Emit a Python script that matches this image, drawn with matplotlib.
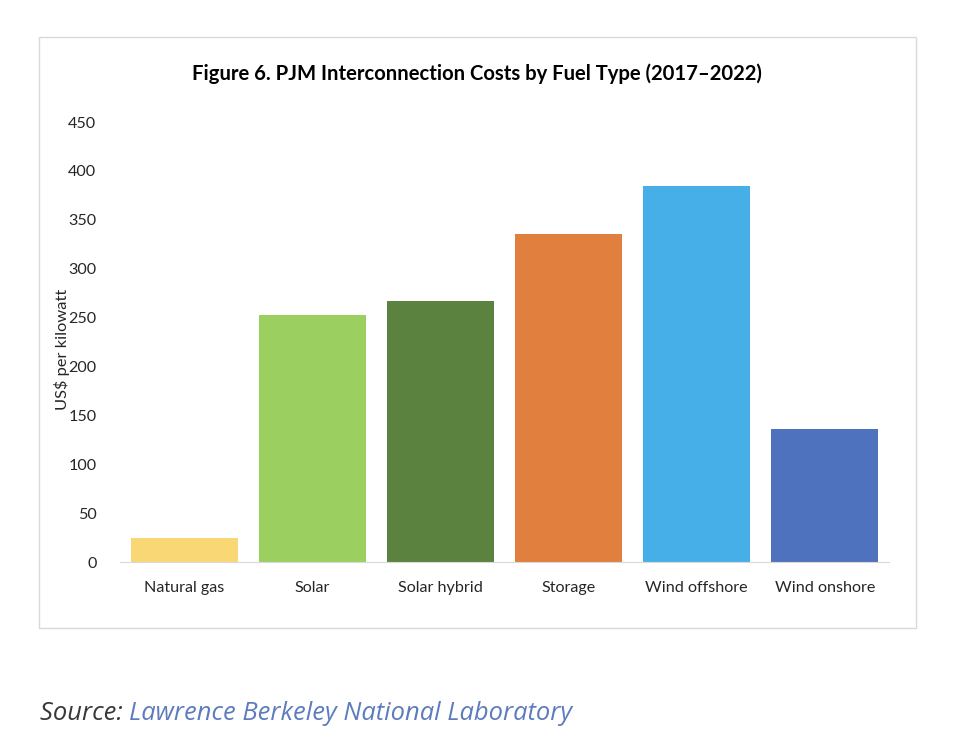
import matplotlib
matplotlib.use("Agg")
import matplotlib.pyplot as plt
from matplotlib.patches import Rectangle

categories = ["Natural gas", "Solar", "Solar hybrid", "Storage", "Wind offshore", "Wind onshore"]
values = [24.5, 253, 266.5, 335, 385, 136]
colors = ["#F9D775", "#9BCF5F", "#5B823E", "#E07F3E", "#46AFE8", "#4F72BE"]
yticks = [0, 50, 100, 150, 200, 250, 300, 350, 400, 450]

W, H = 969, 739
fig = plt.figure(figsize=(W / 100, H / 100), dpi=100)
fig.patch.set_facecolor("white")

# outer frame
fig.patches.append(Rectangle((39 / W, 1 - 628 / H), (916 - 39) / W, (628 - 37) / H,
                             transform=fig.transFigure, fill=False,
                             edgecolor="#D9D9D9", linewidth=1.0))

ax = fig.add_axes([120 / W, 1 - 562 / H, (889 - 120) / W, (562 - 122) / H])
x = range(len(categories))
ax.bar(x, values, width=0.835, color=colors)
ax.set_xlim(-0.5, len(categories) - 0.5)
ax.set_ylim(0, 450)
ax.set_yticks(yticks)
ax.set_xticks(list(x))
ax.set_xticklabels(categories)
for s in ["top", "right", "left"]:
    ax.spines[s].set_visible(False)
ax.spines["bottom"].set_color("#D9D9D9")
ax.tick_params(axis="both", length=0, labelsize=11.6, labelcolor="#262626")
ax.tick_params(axis="y", pad=17)
ax.tick_params(axis="x", pad=14)
for lab in ax.get_xticklabels() + ax.get_yticklabels():
    lab.set_family("Lato")
ax.set_ylabel("US$ per kilowatt", fontsize=11.8, family="Lato", color="#262626")
ax.yaxis.set_label_coords(-50 / 769, 0.484)

fig.text(477 / W, 1 - 74 / H, "Figure 6. PJM Interconnection Costs by Fuel Type (2017\u20132022)",
         ha="center", va="center", fontsize=14.6, fontweight="bold", family="Lato", color="#000000")

t1 = fig.text(40 / W, 1 - 720 / H, "Source: ", ha="left", va="baseline", fontsize=18.4,
              style="italic", family="Open Sans", color="#383838")
fig.canvas.draw()
bb = t1.get_window_extent()
fig.text(bb.x1 / W, 1 - 720 / H, "Lawrence Berkeley National Laboratory", ha="left", va="baseline",
         fontsize=18.4, style="italic", family="Open Sans", color="#5D7BBE")

fig.savefig("out.png", dpi=100, facecolor="white")
